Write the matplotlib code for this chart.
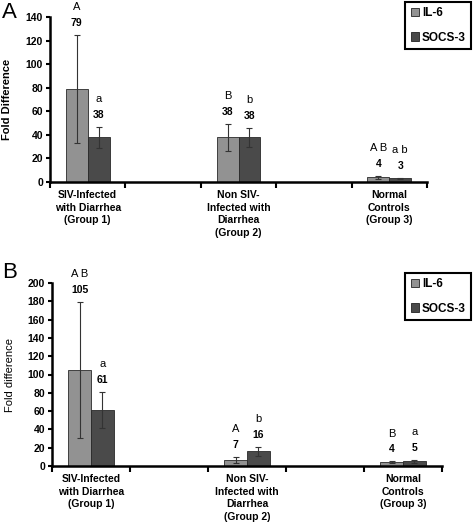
import matplotlib
matplotlib.use("Agg")
import matplotlib.pyplot as plt
from matplotlib.patches import Patch
import numpy as np

plt.rcParams['font.family'] = ['Liberation Sans', 'DejaVu Sans']

groups = ["SIV-Infected\nwith Diarrhea\n(Group 1)",
          "Non SIV-\nInfected with\nDiarrhea\n(Group 2)",
          "Normal\nControls\n(Group 3)"]
series = ["IL-6", "SOCS-3"]

# Panel A
a_il6 = [79, 38, 4]
a_il6_err = [46, 11.5, 1.2]
a_socs = [38, 38, 3]
a_socs_err = [9, 8, 0.8]
a_il6_letters = ["A", "B", "A B"]
a_socs_letters = ["a", "b", "a b"]

# Panel B
b_il6 = [105, 7, 4]
b_il6_err = [74.5, 3.3, 1]
b_socs = [61, 16, 5]
b_socs_err = [20, 4.7, 1.5]
b_il6_letters = ["A B", "A", "B"]
b_socs_letters = ["a", "b", "a"]

c_il6 = "#929292"
c_socs = "#4a4a4a"

fig = plt.figure(figsize=(4.75, 5.28), dpi=100)

def panel(rect, il6, il6e, socs, socse, l1, l2, ymax, ystep, ylabel, ylw, legy):
    ax = fig.add_axes(rect)
    pos = np.array([0, 2, 4])
    w = 0.29
    for vals, errs, col, off, lets in [(il6, il6e, c_il6, -w/2, l1), (socs, socse, c_socs, w/2, l2)]:
        ax.bar(pos + off, vals, width=w, color=col, edgecolor="#2a2a2a", linewidth=0.6, zorder=2)
        ax.errorbar(pos + off, vals, yerr=errs, fmt="none", ecolor="#333333",
                    elinewidth=0.8, capsize=2.5, capthick=0.8, zorder=3)
        for x, v, e, t in zip(pos + off, vals, errs, lets):
            ax.annotate(str(v), (x, v + e), xytext=(0, 5), textcoords="offset points",
                        ha="center", va="bottom", fontsize=7.5, fontweight="bold")
            ax.annotate(t, (x, v + e), xytext=(0, 16.5), textcoords="offset points",
                        ha="center", va="bottom", fontsize=8)
    ax.set_xlim(-0.5, 4.5)
    ax.set_ylim(0, ymax)
    ax.set_yticks(np.arange(0, ymax + 1, ystep))
    ax.set_xticks(pos)
    ax.set_xticklabels(groups, fontsize=7.5, fontweight="bold", linespacing=1.3, va="top")
    ax.set_xticks(np.arange(-0.5, 4.6, 1), minor=True)
    ax.tick_params(axis="x", which="major", length=0, pad=6)
    ax.tick_params(axis="x", which="minor", length=4, width=1.5, direction="out")
    ax.tick_params(axis="y", length=3, width=1.5, labelsize=7.5, pad=2)
    for lab in ax.get_yticklabels():
        lab.set_fontweight("bold")
    for s in ["top", "right"]:
        ax.spines[s].set_visible(False)
    for s in ["left", "bottom"]:
        ax.spines[s].set_linewidth(1.8)
    ax.set_ylabel(ylabel, fontsize=8, fontweight=ylw, labelpad=6)
    ax.patch.set_alpha(0)
    handles = [Patch(facecolor=c_il6, edgecolor="#222222", linewidth=0.6, label=series[0]),
               Patch(facecolor=c_socs, edgecolor="#222222", linewidth=0.6, label=series[1])]
    leg = fig.legend(handles=handles, loc="upper right", bbox_to_anchor=(471/475, legy),
                     bbox_transform=fig.transFigure, fancybox=False, framealpha=1,
                     edgecolor="black", handlelength=0.7, handleheight=0.7,
                     handletextpad=0.25, labelspacing=1.05, borderpad=0.45, borderaxespad=0,
                     prop={"weight": "bold", "size": 8.5})
    leg.get_frame().set_linewidth(1.5)
    return ax

axA = panel([50/475, 1-182/528, 377/475, 165/528], a_il6, a_il6_err, a_socs, a_socs_err,
            a_il6_letters, a_socs_letters, 140, 20, "Fold Difference", "bold", 1-2/528)
axB = panel([52/475, 1-466/528, 390/475, 183/528], b_il6, b_il6_err, b_socs, b_socs_err,
            b_il6_letters, b_socs_letters, 200, 20, "Fold difference", "normal", 1-273/528)

axA.yaxis.set_label_coords(-0.1, 0.5)
axB.yaxis.set_label_coords(-0.095, 0.5)

fig.text(2/475, 1-2/528, "A", fontsize=16, va="top", ha="left")
fig.text(2/475, 1-262/528, "B", fontsize=16, va="top", ha="left")

fig.savefig("out.png", dpi=100)
